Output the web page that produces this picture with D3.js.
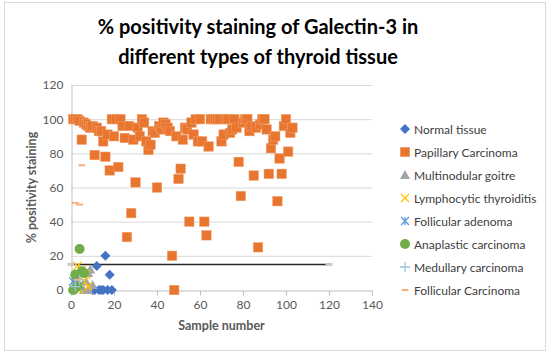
<!DOCTYPE html>
<html>
<head>
<meta charset="utf-8">
<script src="https://cdn.jsdelivr.net/npm/d3@7"></script>
<style>
  body { margin: 0; background: #fff; }
  text { font-family: Lato, "Open Sans", sans-serif; }
</style>
</head>
<body>
<div id="chart"></div>
<script>
// data
var normalX = [10, 11, 12, 13, 14, 15, 16, 17, 18, 19]
var normalY = [0, 0, 14, 0, 0, 0, 20, 0, 9, 0]

var papillaryX = d3.range(1, 104)
var papillaryY = [100, 100, 100, 99, 88, 98, 97, 96, 95, 96,
  79, 95, 93, 93, 87, 78, 91, 70, 100, 90,
  100, 72, 100, 96, 89, 31, 96, 45, 88, 63,
  95, 90, 100, 98, 87, 82, 85, 93, 92, 60,
  96, 94, 98, 97, 95, 93, 20, 0, 90, 65,
  71, 88, 95, 94, 40, 98, 91, 100, 87, 100,
  87, 40, 32, 84, 100, 100, 100, 100, 100, 87,
  91, 100, 100, 92, 94, 100, 95, 75, 55, 98,
  100, 100, 93, 96, 67, 95, 25, 97, 100, 100,
  94, 68, 83, 88, 90, 52, 77, 68, 96, 100,
  81, 92, 95]

var goitreX = [6, 7, 8, 9, 10, 8]
var goitreY = [0, 5, 10, 12, 3, 0]

var lymphoX = [3, 5, 6, 7, 8, 4]
var lymphoY = [14, 12, 5, 9, 2, 0]

var adenomaX = [1, 2, 3, 4]
var adenomaY = [5, 4, 6, 3]

var anaplasticX = [1, 2, 3, 4, 5, 6]
var anaplasticY = [0, 9, 2, 24, 11, 10]

var medullaryX = [2, 4]
var medullaryY = [2, 6]

var follicularX = [2, 4, 5, 3]
var follicularY = [51, 50, 73, 6]

var cutoffX = [0, 120]
var cutoffY = [15, 15]

var xTicks = [0, 20, 40, 60, 80, 100, 120, 140]
var yTicks = [0, 20, 40, 60, 80, 100, 120]

var series = [
  { name: 'Normal tissue', xs: normalX, ys: normalY, shape: 'diamond', color: '#4472C4' },
  { name: 'Papillary Carcinoma', xs: papillaryX, ys: papillaryY, shape: 'square', color: '#E8762F' },
  { name: 'Multinodular goitre', xs: goitreX, ys: goitreY, shape: 'triangle', color: '#A5A5A5' },
  { name: 'Lymphocytic thyroiditis', xs: lymphoX, ys: lymphoY, shape: 'x', color: '#FFC000' },
  { name: 'Follicular adenoma', xs: adenomaX, ys: adenomaY, shape: 'asterisk', color: '#5B9BD5' },
  { name: 'Anaplastic carcinoma', xs: anaplasticX, ys: anaplasticY, shape: 'circle', color: '#70AD47' },
  { name: 'Medullary carcinoma', xs: medullaryX, ys: medullaryY, shape: 'plus', color: '#9DC3E6' },
  { name: 'Follicular Carcinoma', xs: follicularX, ys: follicularY, shape: 'dash', color: '#F4B183' }
]

var W = 550, H = 354
var svg = d3.select('#chart').append('svg')
  .attr('width', W).attr('height', H)

// chart border
svg.append('rect')
  .attr('x', 4.5).attr('y', 2.5)
  .attr('width', W - 9).attr('height', H - 6)
  .attr('fill', '#fff').attr('stroke', '#d9d9d9')

// title
var title = svg.append('text')
  .attr('text-anchor', 'middle')
  .attr('font-size', 20).attr('font-weight', 'bold')
  .attr('fill', '#000')
title.append('tspan').attr('x', 258).attr('y', 34).text('% positivity staining of Galectin-3 in')
title.append('tspan').attr('x', 258).attr('y', 64).text('different types of thyroid tissue')

var xScale = d3.scaleLinear().domain([0, 140]).range([71, 372])
var yScale = d3.scaleLinear().domain([0, 120]).range([290, 85])

// gridlines
svg.append('g').selectAll('line')
  .data(yTicks.filter(function (d) { return d > 0 }))
  .enter().append('line')
  .attr('x1', xScale(0)).attr('x2', xScale(140))
  .attr('y1', function (d) { return yScale(d) + 0.5 })
  .attr('y2', function (d) { return yScale(d) + 0.5 })
  .attr('stroke', '#d9d9d9').attr('stroke-width', 1)

// axes
var xAxis = d3.axisBottom(xScale).tickValues(xTicks).tickSize(5).tickPadding(5)
var yAxis = d3.axisLeft(yScale).tickValues(yTicks).tickSize(0).tickPadding(8)

var gx = svg.append('g').attr('transform', 'translate(0,' + (yScale(0) + 0.5) + ')').call(xAxis)
var gy = svg.append('g').attr('transform', 'translate(' + (xScale(0) + 0.5) + ',0)').call(yAxis)
;[gx, gy].forEach(function (g) {
  g.select('.domain').attr('stroke', '#bfbfbf')
  g.selectAll('.tick line').attr('stroke', '#bfbfbf')
  g.selectAll('.tick text').attr('fill', '#595959').attr('font-size', 12)
    .style('font-family', 'Lato, sans-serif')
})

// axis titles
svg.append('text')
  .attr('x', xScale(70)).attr('y', 330)
  .attr('text-anchor', 'middle')
  .attr('font-size', 12.5).attr('font-weight', 'bold').attr('fill', '#595959')
  .text('Sample number')

svg.append('text')
  .attr('transform', 'translate(36,' + yScale(60) + ') rotate(-90)')
  .attr('text-anchor', 'middle')
  .attr('font-size', 12.5).attr('font-weight', 'bold').attr('fill', '#595959')
  .text('% positivity staining')

// marker shapes
function marker(g, shape, color) {
  if (shape === 'square') {
    g.append('rect').attr('x', -4.75).attr('y', -4.75).attr('width', 9.5).attr('height', 9.5)
      .attr('fill', color).attr('stroke', '#F1A070').attr('stroke-width', 0.5)
  } else if (shape === 'diamond') {
    g.append('path').attr('d', 'M0,-5L5,0L0,5L-5,0Z').attr('fill', color)
  } else if (shape === 'triangle') {
    g.append('path').attr('d', 'M0,-5L5,4L-5,4Z').attr('fill', color)
  } else if (shape === 'circle') {
    g.append('circle').attr('r', 5).attr('fill', color)
  } else if (shape === 'x') {
    g.append('path').attr('d', 'M-4,-4L4,4M-4,4L4,-4').attr('stroke', color).attr('stroke-width', 1.3).attr('fill', 'none')
  } else if (shape === 'asterisk') {
    g.append('path').attr('d', 'M-4,-4L4,4M-4,4L4,-4M0,-4L0,4').attr('stroke', color).attr('stroke-width', 1.3).attr('fill', 'none')
  } else if (shape === 'plus') {
    g.append('path').attr('d', 'M-5,0L5,0M0,-5L0,5').attr('stroke', color).attr('stroke-width', 1.3).attr('fill', 'none')
  } else if (shape === 'dash') {
    g.append('rect').attr('x', -3.5).attr('y', -1).attr('width', 7).attr('height', 2).attr('fill', color)
  }
}

// cut-off line
svg.append('line')
  .attr('x1', xScale(cutoffX[0])).attr('x2', xScale(cutoffX[1]))
  .attr('y1', yScale(cutoffY[0])).attr('y2', yScale(cutoffY[1]))
  .attr('stroke', '#262626').attr('stroke-width', 1.5)
cutoffX.forEach(function (x, i) {
  svg.append('rect')
    .attr('x', xScale(x) - 3.5).attr('y', yScale(cutoffY[i]) - 1.5)
    .attr('width', 7).attr('height', 3).attr('fill', '#c8c8c8')
})

// points
series.forEach(function (s) {
  var pts = s.xs.map(function (x, i) { return { x: x, y: s.ys[i] } })
  svg.append('g').selectAll('g')
    .data(pts)
    .enter().append('g')
    .attr('transform', function (d) { return 'translate(' + xScale(d.x) + ',' + yScale(d.y) + ')' })
    .each(function () { marker(d3.select(this), s.shape, s.color) })
})

// legend
var legend = svg.append('g').selectAll('g')
  .data(series)
  .enter().append('g')
  .attr('transform', function (d, i) { return 'translate(405,' + (129 + i * 23) + ')' })
legend.each(function (s) { marker(d3.select(this), s.shape, s.color) })
legend.append('text')
  .attr('x', 9).attr('y', 4.5)
  .attr('font-size', 12).attr('fill', '#404040')
  .text(function (d) { return d.name })
</script>
</body>
</html>
